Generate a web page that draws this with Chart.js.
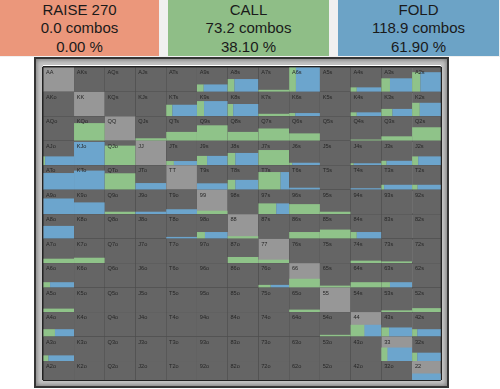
<!DOCTYPE html>
<html>
<head>
<meta charset="utf-8">
<script src="https://cdn.jsdelivr.net/npm/chart.js@4.4.1/dist/chart.umd.min.js"></script>
<style>
  body { margin: 0; width: 500px; height: 389px; background: #fff; position: relative; overflow: hidden;
         font-family: "Liberation Sans", Arial, sans-serif; }
  .head { position: absolute; left: 0; top: 0; width: 500px; height: 57px; background: #f0f0f0; }
  .box { position: absolute; top: 0; height: 56px; text-align: center; font-size: 15px;
         line-height: 18.5px; color: #1a1a1a; padding-top: 0.5px; box-sizing: border-box; }
  .frame { position: absolute; left: 34px; top: 57px; width: 411px; height: 327px;
           border: 2px solid #353535; background: #c4c4c4; box-shadow: inset 0 0 4px 1px #7a7a7a; }
  .shine { position: absolute; left: 43px; top: 65px; width: 398px; height: 1px; background: #fff; }
  canvas { position: absolute; left: 0; top: 0; }
</style>
</head>
<body>
<div class="head" id="head"></div>
<div class="frame"></div>
<div class="shine"></div>
<canvas id="grid" width="500" height="389"></canvas>
<script>
// ── Summary boxes ──────────────────────────────────────────────
const actionNames = ['RAISE 270', 'CALL', 'FOLD'];
const actionCombos = [0.0, 73.2, 118.9];
const actionPct = [0.00, 38.10, 61.90];
const actionColors = ['#eb977b', '#8fbe87', '#6ca3c6'];
const boxLeft = [0, 168, 338];
const boxWidth = [159, 161, 161];

// ── Range grid ─────────────────────────────────────────────────
const ranks = ['A', 'K', 'Q', 'J', 'T', '9', '8', '7', '6', '5', '4', '3', '2'];

// share of each hand in the range (fills the cell from the bottom)
const weight = [
  [0, 0, 0, 0, 0, 0.30, 0.52, 0.08, 1.00, 0, 0.18, 0.55, 0.80],
  [0, 0, 0, 0, 0.47, 0.62, 0.50, 0.10, 0.13, 0, 0.16, 0.30, 0.55],
  [0, 0.72, 0, 0.10, 0.36, 0.63, 0.36, 0.50, 0.30, 0, 0.05, 0.18, 0.55],
  [0.36, 0.95, 0.80, 0, 0.17, 0.38, 0.50, 0.62, 0.10, 0, 0.08, 0.18, 0.36],
  [0.68, 0.78, 0.67, 0.27, 0, 0.26, 0.40, 0.72, 0.08, 0, 0.06, 0.20, 0.20],
  [0.64, 0.48, 0.10, 0.10, 0.20, 0.14, 0, 0.44, 0.41, 0.10, 0, 0, 0],
  [0.52, 0, 0, 0, 0.07, 0.27, 0.10, 0, 0.27, 0.37, 0.27, 0, 0],
  [0.18, 0.22, 0, 0, 0, 0, 0.25, 0.14, 0, 0, 0.10, 0.07, 0],
  [0.22, 0, 0, 0, 0, 0, 0, 0.11, 0.36, 0.08, 0.22, 0.22, 0],
  [0.14, 0, 0, 0, 0, 0, 0, 0, 0.10, 0, 0, 0.07, 0.16],
  [0.30, 0, 0, 0, 0, 0, 0, 0, 0, 0.07, 0.48, 0.37, 0.30],
  [0.23, 0, 0, 0, 0, 0, 0, 0, 0, 0, 0, 0.55, 0.34],
  [0, 0, 0, 0, 0, 0, 0, 0, 0, 0, 0, 0, 0.49]
];

// part of that share which is a call (left, green); the rest folds (right, blue)
const callPart = [
  [0, 0, 0, 0, 0, 0.22, 0.22, 1, 0.22, 0, 0.20, 0.28, 0.27],
  [0, 0, 0, 0, 0.20, 0.23, 0.18, 1, 0.20, 0, 0.20, 0.36, 0.25],
  [0, 1, 0, 1, 1, 1, 1, 1, 1, 0, 1, 1, 1],
  [0.06, 0, 1, 0, 0.25, 0.33, 0.25, 1, 0.10, 0, 0.10, 0.17, 0.20],
  [0, 0, 1, 0, 0, 0, 0.25, 0.72, 0, 0, 0, 0.09, 0.18],
  [0, 0, 1, 0, 0, 1, 0, 0.58, 1, 1, 0, 0, 0],
  [0, 0, 0, 0, 0, 0.26, 1, 0, 1, 1, 0.20, 0, 0],
  [1, 1, 0, 0, 0, 0, 1, 1, 0, 0, 1, 1, 0],
  [0.22, 0, 0, 0, 0, 0, 0, 0.40, 1, 1, 1, 0.28, 0],
  [1, 0, 0, 0, 0, 0, 0, 0, 1, 0, 0, 1, 1],
  [0.38, 0, 0, 0, 0, 0, 0, 0, 0, 1, 0.45, 0.25, 0.17],
  [0.17, 0, 0, 0, 0, 0, 0, 0, 0, 0, 0, 0.20, 0.17],
  [0, 0, 0, 0, 0, 0, 0, 0, 0, 0, 0, 0, 0]
];

const CELL_BG = '#656565';
const PAIR_BG = '#979797';
const CALL_COLOR = '#8fc389';
const FOLD_COLOR = '#6ca5cd';

const head = document.getElementById('head');
actionNames.forEach((name, i) => {
  const d = document.createElement('div');
  d.className = 'box';
  d.style.left = boxLeft[i] + 'px';
  d.style.width = boxWidth[i] + 'px';
  d.style.background = actionColors[i];
  d.innerHTML = `${name}<br>${actionCombos[i].toFixed(1)} combos<br>${actionPct[i].toFixed(2)} %`;
  head.appendChild(d);
});

function handName(r, c) {
  if (r === c) return ranks[r] + ranks[c];
  return r < c ? ranks[r] + ranks[c] + 's' : ranks[c] + ranks[r] + 'o';
}

const cells = [];
ranks.forEach((_, r) => ranks.forEach((_, c) => {
  cells.push({ x: c, y: r, w: weight[r][c], g: callPart[r][c], pair: r === c, name: handName(r, c) });
}));

const rangeCells = {
  id: 'rangeCells',
  beforeDatasetsDraw(chart) {
    const { ctx, chartArea: a, scales: { x, y } } = chart;
    ctx.save();
    ctx.beginPath();
    ctx.rect(a.left, a.top, a.right - a.left, a.bottom - a.top);
    ctx.clip();
    chart.data.datasets[0].data.forEach(p => {
      const x0 = x.getPixelForValue(p.x), x1 = x.getPixelForValue(p.x + 1);
      const y0 = y.getPixelForValue(p.y), y1 = y.getPixelForValue(p.y + 1);
      ctx.fillStyle = p.pair ? PAIR_BG : CELL_BG;
      ctx.fillRect(x0, y0, x1 - x0, y1 - y0);
      if (p.w > 0) {
        const yt = y.getPixelForValue(p.y + 1 - p.w);
        const xm = x.getPixelForValue(p.x + p.g);
        ctx.fillStyle = CALL_COLOR;
        ctx.fillRect(x0, yt, xm - x0, y1 - yt);
        ctx.fillStyle = FOLD_COLOR;
        ctx.fillRect(xm, yt, x1 - xm, y1 - yt);
      }
      ctx.fillStyle = '#262626';
      ctx.font = '5.6px "Liberation Sans", Arial, sans-serif';
      ctx.textBaseline = 'top';
      ctx.fillText(p.name, x0 + 2.8, y0 + 2.8);
    });
    ctx.restore();
  }
};

new Chart(document.getElementById('grid'), {
  type: 'scatter',
  data: { datasets: [{ data: cells, pointRadius: 0 }] },
  options: {
    responsive: false,
    animation: false,
    events: [],
    devicePixelRatio: 1,
    layout: { padding: { left: 43.3, top: 67.3, right: 59.3, bottom: 9 } },
    plugins: { legend: { display: false }, tooltip: { enabled: false } },
    scales: {
      x: {
        type: 'linear', position: 'top', min: 0, max: 12.93, z: 1,
        ticks: { display: false, stepSize: 1 },
        grid: { color: '#222222', lineWidth: 2, drawTicks: false },
        border: { display: false },
        afterFit: s => { s.height = 0; }
      },
      y: {
        type: 'linear', reverse: true, min: 0, max: 12.776, z: 1,
        ticks: { display: false, stepSize: 1 },
        grid: { color: '#222222', lineWidth: 2, drawTicks: false },
        border: { display: false },
        afterFit: s => { s.width = 0; }
      }
    }
  },
  plugins: [rangeCells]
});
</script>
</body>
</html>
